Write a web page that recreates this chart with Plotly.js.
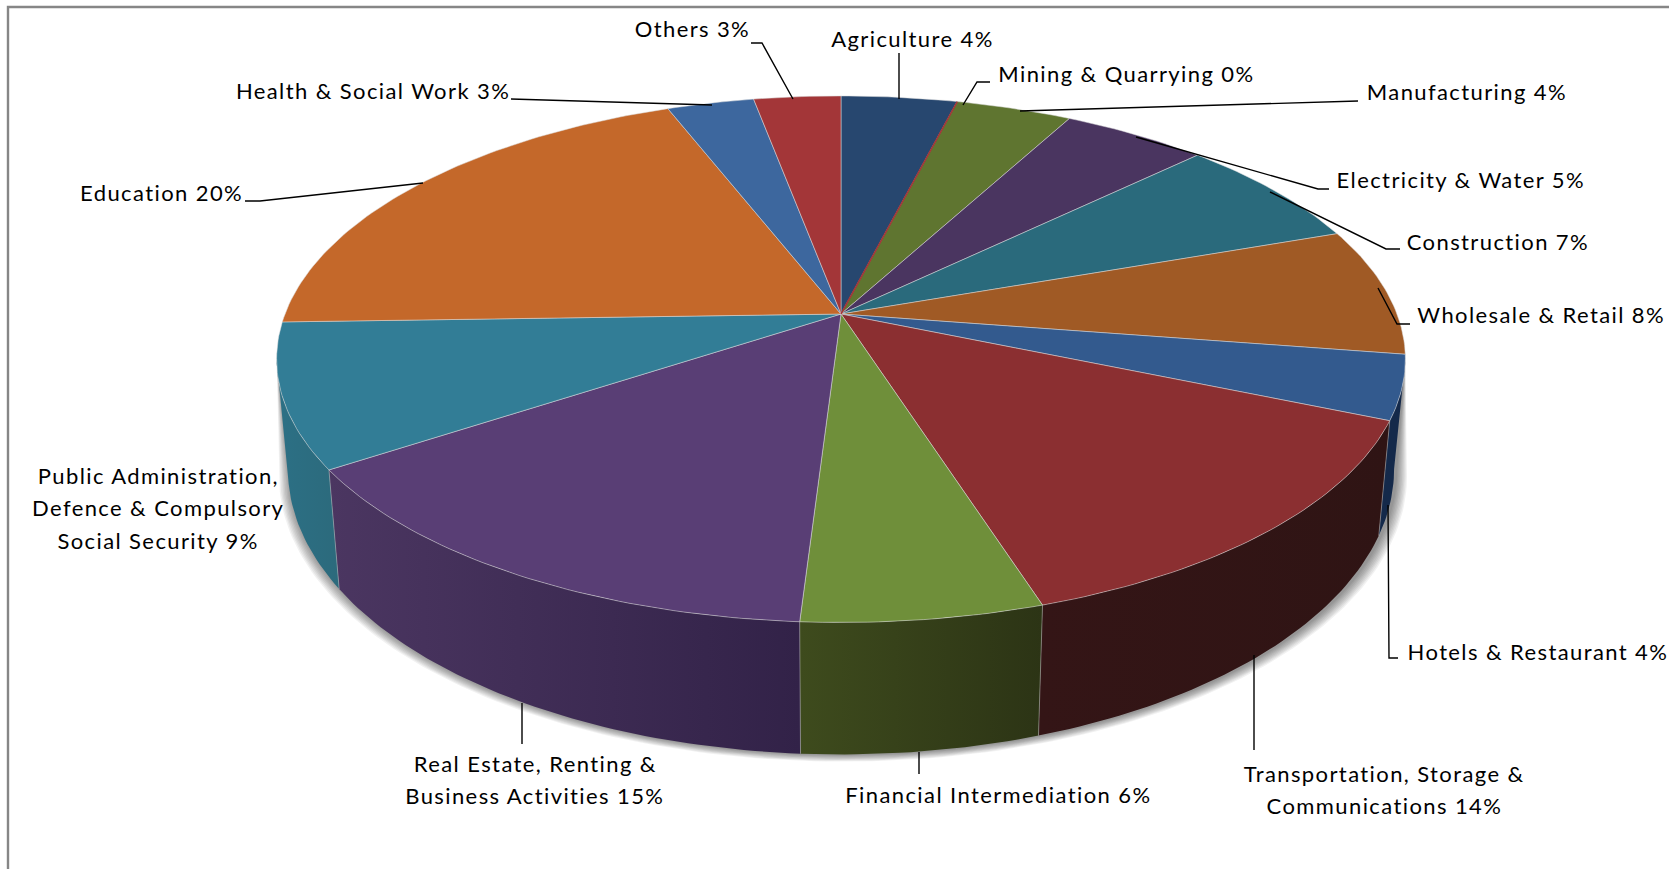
<!DOCTYPE html>
<html>
<head>
<meta charset="utf-8">
<script src="https://cdn.plot.ly/plotly-3.0.1.min.js"></script>
<style>
html,body{margin:0;padding:0;background:#fff}
#chart{width:1669px;height:869px}
#chart .annotation-text{letter-spacing:1.4px}
</style>
</head>
<body>
<div id="chart"></div>
<script>
// Share of employment by sector, drawn as a tilted pie with a solid rim.
const sectors = ['Agriculture','Mining & Quarrying','Manufacturing','Electricity & Water','Construction',
  'Wholesale & Retail','Hotels & Restaurant','Transportation, Storage &<br>Communications',
  'Financial Intermediation','Real Estate, Renting &<br>Business Activities',
  'Public Administration,<br>Defence & Compulsory<br>Social Security','Education','Health & Social Work','Others'];
const shares = [4,0,4,5,7,8,4,14,6,15,9,20,3,3];

const topColors = ['#27476F','#A33638','#5F7530','#4A3560','#2A6A7C','#A05A25','#335A8E','#8B2F31',
  '#6F8F3A','#593E75','#327D96','#C4682A','#3D679E','#A33638'];
// Rim gradient, left end then right end of each visible wall.
const wallLeft  = {6:'#14294A',7:'#341516',8:'#3E4B1D',9:'#4B3661',10:'#2C7085'};
const wallRight = {6:'#14294A',7:'#2F1414',8:'#2C3415',9:'#322248',10:'#2C6A7C'};

// Text centre of every label.
const labelX = [912,1126,1467,1461,1498,1541,1538,1384,998,535,158,161,373,692];
const labelY = [38,73,91,179.5,241,314,651,773,794,763,475,192,90,28];
// Leader polylines.
const leaderX = [[899,899],[990,977,963],[1358,1020],[1329,1318,1136],[1400,1386,1270],[1410,1397,1378],
  [1398,1389,1388],[1254,1254],[919,919],[522,522],[],[245,260,423],[511,712],[751,762,793]];
const leaderY = [[53,99],[82,82,105],[101,111],[189,189,137],[249,249,192],[324,324,288],
  [658,658,505],[750,655],[774,752],[744,703],[],[201,201,183],[99,105],[43,43,99]];

// Projection of the disc: perspective foreshortening about the hub.
const hubX = 841, hubY = 314, radX = 556, radY = 255.5, persp = 0.1717;
const baseY = 420, baseRadY = 277, baseScale = 0.98;
const visFrom = 99.9, visTo = 260.1; // rim is visible between these bearings

const rad = d => d * Math.PI / 180;
const topPt = d => {
  const s = Math.sin(rad(d)), c = Math.cos(rad(d)), q = 1 + persp * c;
  return [hubX + radX * s / q, hubY - radY * c / q];
};
const basePt = d => {
  const s = Math.sin(rad(d)), c = Math.cos(rad(d)), q = 1 + persp * c;
  return [hubX + baseScale * radX * s / q, baseY - baseRadY * c / q];
};
const arc = (fn, a, b) => {
  const n = Math.max(1, Math.ceil(Math.abs(b - a))), pts = [];
  for (let i = 0; i <= n; i++) pts.push(fn(a + (b - a) * i / n));
  return pts;
};
const poly = (pts, extra) => Object.assign({
  type: 'scatter', mode: 'lines', x: pts.map(p => p[0]), y: pts.map(p => p[1]),
  hoverinfo: 'skip', showlegend: false
}, extra);

const total = shares.reduce((a, b) => a + b, 0);
const bounds = [0];
shares.forEach(v => bounds.push(bounds[bounds.length - 1] + v / total * 360));

const traces = [];

// Soft shadow under the rim.
for (let i = 9; i >= 1; i--) {
  const grow = d => { const p = basePt(d); return [hubX + 2 + (p[0] - hubX) * (1 + 0.0022 * i), p[1] + i * 0.8]; };
  const pts = arc(topPt, visFrom, visTo).concat(arc(grow, visTo, visFrom));
  traces.push(poly(pts, {fill: 'toself', fillcolor: 'rgba(0,0,0,0.055)', line: {width: 0}}));
}

// Rim walls.
shares.forEach((v, i) => {
  const a = Math.max(bounds[i], visFrom), b = Math.min(bounds[i + 1], visTo);
  if (b <= a) return;
  const pts = arc(topPt, a, b).concat(arc(basePt, b, a));
  pts.push(pts[0]);
  traces.push(poly(pts, {
    fill: 'toself', line: {width: 0},
    fillcolor: wallRight[i],
    fillgradient: {type: 'horizontal', colorscale: [[0, wallLeft[i]], [1, wallRight[i]]]}
  }));
});
// Light seams between neighbouring walls.
bounds.forEach(d => {
  if (d <= visFrom || d >= visTo) return;
  traces.push(poly([topPt(d), basePt(d)], {line: {color: 'rgba(205,205,205,0.45)', width: 1}}));
});

// Top faces.
shares.forEach((v, i) => {
  if (v === 0) return;
  const pts = [[hubX, hubY]].concat(arc(topPt, bounds[i], bounds[i + 1]));
  pts.push([hubX, hubY]);
  traces.push(poly(pts, {
    fill: 'toself', fillcolor: topColors[i],
    line: {color: 'rgba(222,222,222,0.5)', width: 1}
  }));
});
// A rounded-down share still shows as a hairline on top of its neighbours.
shares.forEach((v, i) => {
  if (v !== 0) return;
  traces.push(poly([[hubX, hubY], topPt(bounds[i])], {line: {color: topColors[i], width: 1.6}}));
});

// Leader lines.
leaderX.forEach((xs, i) => {
  if (!xs.length) return;
  traces.push({type: 'scatter', mode: 'lines', x: xs, y: leaderY[i], hoverinfo: 'skip', showlegend: false,
    line: {color: '#000', width: 1.4}});
});

// Labels, one annotation per line to hold the leading.
const lineGap = 32.5;
const annotations = [];
sectors.forEach((name, i) => {
  const lines = (name + ' ' + shares[i] + '%').split('<br>');
  lines.forEach((t, j) => annotations.push({
    x: labelX[i], y: labelY[i] + j * lineGap, xref: 'x', yref: 'y', text: t,
    showarrow: false, xanchor: 'center', yanchor: 'middle',
    font: {family: 'Lato, sans-serif', size: 22, color: '#000'}
  }));
});

Plotly.newPlot('chart', traces, {
  width: 1669, height: 869, margin: {l: 0, r: 0, t: 0, b: 0},
  paper_bgcolor: '#fff', plot_bgcolor: '#fff', showlegend: false, hovermode: false,
  xaxis: {range: [0, 1669], visible: false, fixedrange: true},
  yaxis: {range: [869, 0], visible: false, fixedrange: true},
  shapes: [{type: 'path', path: 'M8,869 L8,7 L1669,7', line: {color: '#868686', width: 2.4}, xref: 'x', yref: 'y', layer: 'below'}],
  annotations
}, {displayModeBar: false, staticPlot: true});
</script>
</body>
</html>
